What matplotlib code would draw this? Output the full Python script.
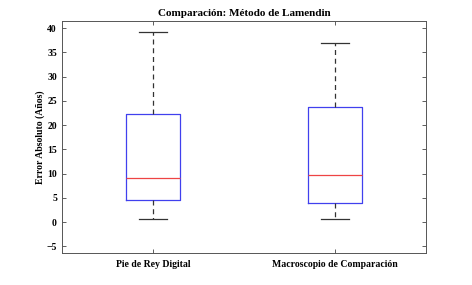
import matplotlib
matplotlib.use("Agg")
import matplotlib.pyplot as plt

categories = ["Pie de Rey Digital", "Macroscopio de Comparación"]
whisker_low = [0.55, 0.55]
q1 = [4.48, 3.93]
median = [9.15, 9.7]
q3 = [22.25, 23.76]
whisker_high = [39.25, 36.9]
yticks = [-5, 0, 5, 10, 15, 20, 25, 30, 35, 40]

plt.rcParams['font.family'] = ['Liberation Serif', 'DejaVu Serif']
plt.rcParams['font.weight'] = 'bold'

fig = plt.figure(figsize=(4.72, 2.85), dpi=100)
ax = fig.add_axes([0.131, 0.112, 0.772, 0.813])

stats = []
for i, c in enumerate(categories):
    stats.append(dict(label=c, whislo=whisker_low[i], q1=q1[i], med=median[i],
                      q3=q3[i], whishi=whisker_high[i], fliers=[]))

ax.bxp(stats, positions=[1, 2], widths=0.3, showfliers=False,
       boxprops=dict(color='#4040ee', linewidth=0.9),
       medianprops=dict(color='#ee4444', linewidth=0.9),
       whiskerprops=dict(color='#333333', linestyle=(0, (4, 3)), linewidth=0.9),
       capprops=dict(color='#333333', linewidth=0.9),
       capwidths=0.15)

ax.set_xlim(0.5, 2.5)
ax.set_ylim(-6.4, 41.4)
ax.set_yticks(yticks)
ax.set_xticks([1, 2])
ax.set_xticklabels(categories, fontsize=7, fontweight='bold')
ax.tick_params(axis='both', direction='in', length=3, width=0.6, colors='#444444',
               labelcolor='black', labelsize=7, top=True, right=True)
ax.tick_params(axis='x', pad=5)
for s in ax.spines.values():
    s.set_color('#555555')
    s.set_linewidth(0.7)
ax.set_ylabel("Error Absoluto (Años)", fontsize=7, fontweight='bold', labelpad=1)
ax.set_title("Comparación: Método de Lamendin", fontsize=8, fontweight='bold', pad=4)

fig.savefig("out.png", dpi=100)
